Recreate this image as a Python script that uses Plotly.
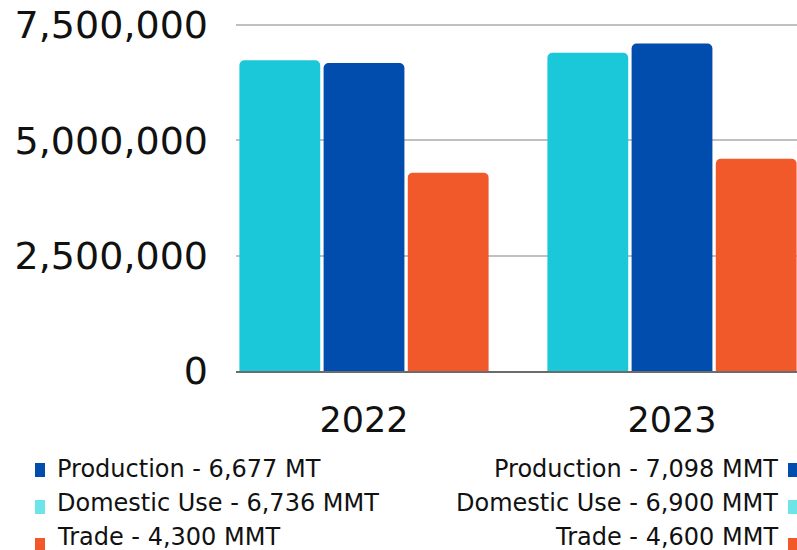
import plotly.graph_objects as go

years = ["2022", "2023"]
series_names = ["Domestic Use", "Production", "Trade"]
domestic_use = [6736000, 6900000]
production = [6677000, 7098000]
trade = [4300000, 4600000]
bar_colors = ["#1BC8D9", "#004DAD", "#F2592A"]
legend_colors = {"Production": "#004DAD", "Domestic Use": "#6CE4E8", "Trade": "#F2592A"}
legend_left = ["Production - 6,677 MT", "Domestic Use - 6,736 MMT", "Trade - 4,300 MMT"]
legend_right = ["Production - 7,098 MMT", "Domestic Use - 6,900 MMT", "Trade - 4,600 MMT"]
legend_keys = ["Production", "Domestic Use", "Trade"]
y_ticks = [0, 2500000, 5000000, 7500000]
y_tick_text = ["0", "2,500,000", "5,000,000", "7,500,000"]

FONT = "DejaVu Sans"
W, Hh = 797, 550
L, T = 236, 20
PW, PH = 797 - 236, 351

fig = go.Figure()
for name, vals, col in zip(series_names, [domestic_use, production, trade], bar_colors):
    fig.add_trace(go.Bar(x=years, y=vals, name=name, marker=dict(color=col, cornerradius=5, line=dict(width=0))))

def px(x):
    return (x - L) / PW

def py(y):
    return (T + PH - y) / PH

annotations = []
shapes = []
rows_y = [469, 503, 537]
sq_off = [1, 4, 8]
for i, (lt, rt, key) in enumerate(zip(legend_left, legend_right, legend_keys)):
    yc = rows_y[i]
    annotations.append(dict(text=lt, x=px(55), y=py(yc), xref="paper", yref="paper",
                            xanchor="left", yanchor="middle", showarrow=False,
                            font=dict(family=FONT, size=24, color="#111111")))
    annotations.append(dict(text=rt, x=px(780), y=py(yc), xref="paper", yref="paper",
                            xanchor="right", yanchor="middle", showarrow=False,
                            font=dict(family=FONT, size=24, color="#111111")))
    c = legend_colors[key]
    ys = yc + sq_off[i]
    shapes.append(dict(type="rect", xref="paper", yref="paper", x0=px(35), x1=px(45),
                       y0=py(ys - 7), y1=py(ys + 7), fillcolor=c, line=dict(width=0)))
    shapes.append(dict(type="rect", xref="paper", yref="paper", x0=px(788), x1=px(798),
                       y0=py(ys - 7), y1=py(ys + 7), fillcolor=c, line=dict(width=0)))

fig.update_layout(
    width=W, height=Hh,
    margin=dict(l=L, r=0, t=T, b=Hh - T - PH, pad=0),
    paper_bgcolor="white", plot_bgcolor="white",
    barmode="group", bargap=0.18, bargroupgap=0.04,
    showlegend=False,
    annotations=annotations, shapes=shapes,
    xaxis=dict(range=[-0.4156, 1.4058], showgrid=False, showline=True, linecolor="#6b6b6b",
               linewidth=2, ticks="", tickfont=dict(family=FONT, size=35, color="#111111"),
               ticklabelstandoff=17, fixedrange=True),
    yaxis=dict(range=[0, 7500000 * 351 / 346], tickvals=y_ticks, ticktext=y_tick_text,
               showgrid=True, gridcolor="#c0c0c0", gridwidth=2, zeroline=False,
               showline=False, ticks="", tickfont=dict(family=FONT, size=38, color="#111111"),
               ticklabelstandoff=27, fixedrange=True),
)

fig.write_html("out.html")
